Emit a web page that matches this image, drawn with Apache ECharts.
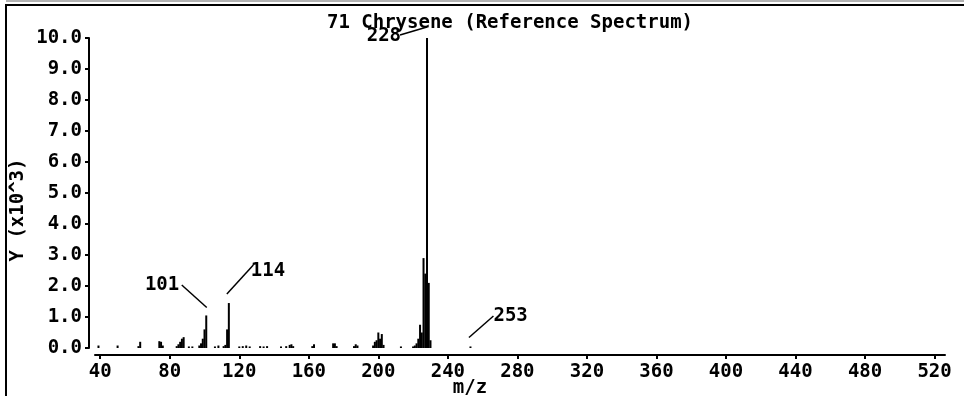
<!DOCTYPE html>
<html><head><meta charset="utf-8">
<script src="https://cdn.jsdelivr.net/npm/echarts@6/dist/echarts.min.js"></script>
<style>html,body{margin:0;padding:0;background:#fff;}#c{width:964px;height:396px;}</style>
</head><body><div id="c"></div>
<script>
var titleText = "71 Chrysene (Reference Spectrum)";
var yAxisName = "Y (x10^3)";
var xAxisName = "m/z";
var mzValues = [39,50,62,63,74,75,76,84,85,86,87,88,91,93,97,98,99,100,101,106,108,111,112,113,114,120,122,124,126,132,134,136,144,147,149,150,151,162,163,174,175,176,186,187,188,197,198,199,200,201,202,203,213,220,221,222,223,224,225,226,227,228,229,230,253];
var intensities = [0.08,0.08,0.06,0.2,0.22,0.2,0.08,0.06,0.12,0.2,0.3,0.35,0.05,0.05,0.08,0.15,0.3,0.6,1.05,0.05,0.08,0.06,0.1,0.6,1.45,0.05,0.06,0.08,0.05,0.06,0.05,0.06,0.05,0.06,0.1,0.12,0.06,0.06,0.12,0.15,0.15,0.06,0.06,0.12,0.08,0.08,0.2,0.25,0.5,0.3,0.45,0.1,0.05,0.05,0.08,0.15,0.3,0.75,0.5,2.9,2.4,10.0,2.1,0.25,0.05];
var xTickLabels = [40,80,120,160,200,240,280,320,360,400,440,480,520];
var annotatedPeaks = [101,114,228,253];

var FONT = "DejaVu Sans Mono";
var FS = 19;
var annLayout = {
  101: {l:[0.5,-8,-24.5,-30.5], t:[-27,-30], align:'right'},
  114: {l:[-2,-9,24.5,-38], t:[22,-32], align:'left'},
  228: {l:[0,-11,-27,-3], t:[-26,-2], align:'right'},
  253: {l:[-1.5,-9,23,-30.5], t:[23,-30], align:'left'}
};

var chart = echarts.init(document.getElementById('c'), null, {renderer:'canvas'});
var seriesData = mzValues.map(function(m,i){return [m, intensities[i]];});
chart.setOption({
  animation:false,
  backgroundColor:'#fff',
  title:{text:titleText,left:505,top:9,textAlign:'center',
    textStyle:{fontFamily:FONT,fontSize:FS,fontWeight:'bold',color:'#000'}},
  grid:{left:95,right:19,top:38,bottom:48,containLabel:false},
  xAxis:{type:'value',min:37,max:526,offset:7,
    axisLine:{onZero:false,lineStyle:{color:'#000',width:2}},
    axisTick:{show:true,length:4,inside:false,customValues:xTickLabels,lineStyle:{color:'#000',width:2}},
    axisLabel:{customValues:xTickLabels,margin:8,color:'#000',fontFamily:FONT,fontSize:FS,fontWeight:'bold'},
    splitLine:{show:false}},
  yAxis:{type:'value',min:0,max:10,interval:1,offset:6,
    axisLine:{show:true,onZero:false,lineStyle:{color:'#000',width:2}},
    axisTick:{show:true,length:4,lineStyle:{color:'#000',width:2}},
    axisLabel:{margin:7,color:'#000',fontFamily:FONT,fontSize:FS,fontWeight:'bold',
      formatter:function(v){return v.toFixed(1);}},
    splitLine:{show:false}},
  series:[{type:'bar',data:seriesData,barWidth:2,itemStyle:{color:'#000'},silent:true}]
});

var g = [
  {type:'line',shape:{x1:6,y1:1,x2:964,y2:1},style:{stroke:'#666',lineWidth:1}},
  {type:'line',shape:{x1:6,y1:5,x2:964,y2:5},style:{stroke:'#000',lineWidth:2}},
  {type:'line',shape:{x1:6,y1:4,x2:6,y2:396},style:{stroke:'#000',lineWidth:2}},
  {type:'text',x:18,y:210,rotation:Math.PI/2,style:{text:yAxisName,fontFamily:FONT,fontSize:FS,fontWeight:'bold',fill:'#000',align:'center',verticalAlign:'middle'}},
  {type:'text',x:470,y:388,style:{text:xAxisName,fontFamily:FONT,fontSize:FS,fontWeight:'bold',fill:'#000',align:'center',verticalAlign:'middle'}}
];
annotatedPeaks.forEach(function(m){
  var idx = mzValues.indexOf(m);
  var p = chart.convertToPixel({gridIndex:0},[m,intensities[idx]]);
  var L = annLayout[m];
  g.push({type:'line',shape:{x1:p[0]+L.l[0],y1:p[1]+L.l[1],x2:p[0]+L.l[2],y2:p[1]+L.l[3]},style:{stroke:'#000',lineWidth:1.5}});
  g.push({type:'text',x:p[0]+L.t[0],y:p[1]+L.t[1],style:{text:String(m),fontFamily:FONT,fontSize:FS,fontWeight:'bold',fill:'#000',align:L.align,verticalAlign:'middle'}});
});
chart.setOption({graphic:g});
</script></body></html>
